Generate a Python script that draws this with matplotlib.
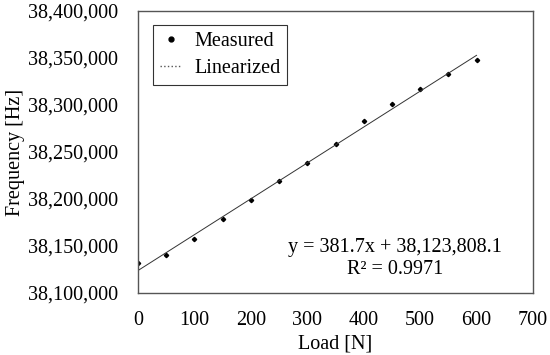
import matplotlib.pyplot as plt
from matplotlib.lines import Line2D
from matplotlib.ticker import FuncFormatter

load = [0, 50, 100, 150, 200, 250, 300, 350, 400, 450, 500, 550, 600]
freq = [38131600, 38140700, 38157400, 38178400, 38198900, 38219100, 38238600,
        38258200, 38283000, 38301100, 38316700, 38333300, 38347500]
slope = 381.7
intercept = 38123808.1
r2 = 0.9971

plt.rcParams['font.family'] = ['Liberation Serif', 'DejaVu Serif']

fig = plt.figure(figsize=(5.5, 3.55), dpi=100)
ax = fig.add_axes([0.251, 0.175, 0.718, 0.794])

fit_x = [load[0], load[-1]]
fit_y = [slope * v + intercept for v in fit_x]

ax.plot(load, freq, 'D', color='black', markersize=2.2)
ax.plot(fit_x, fit_y, '-', color='#333333', linewidth=0.7)

ax.set_xlim(0, 700)
ax.set_ylim(38100000, 38400000)
ax.set_xticks(range(0, 701, 100))
ax.set_yticks(range(38100000, 38400001, 50000))
ax.yaxis.set_major_formatter(FuncFormatter(lambda v, p: f'{int(v):,}'))
ax.tick_params(length=0, labelsize=14.5)
ax.tick_params(axis='y', pad=14.5)
ax.tick_params(axis='x', pad=13)
for s in ax.spines.values():
    s.set_color('#555555')
    s.set_linewidth(1.0)

ax.set_xlabel('Load [N]', fontsize=14.5, labelpad=3)
ax.set_ylabel('Frequency [Hz]', fontsize=14.5, labelpad=2)

ax.text(455, 38136500, f'y = {slope}x + {intercept:,.1f}\nR² = {r2}',
        ha='center', va='center', fontsize=14.5, linespacing=1.25)

handles = [Line2D([], [], marker='o', color='black', linestyle='none', markersize=3.5),
           Line2D([], [], color='#555555', linestyle=':', linewidth=1.0)]
leg = ax.legend(handles, ['Measured', 'Linearized'], loc='upper left',
                fontsize=14.5, frameon=True, fancybox=False, edgecolor='black',
                borderpad=0.35, handlelength=1.1, handletextpad=0.6,
                labelspacing=0.4, borderaxespad=0, bbox_to_anchor=(0.037, 0.95))
leg.get_frame().set_linewidth(0.8)

plt.savefig('out.png', dpi=100)
